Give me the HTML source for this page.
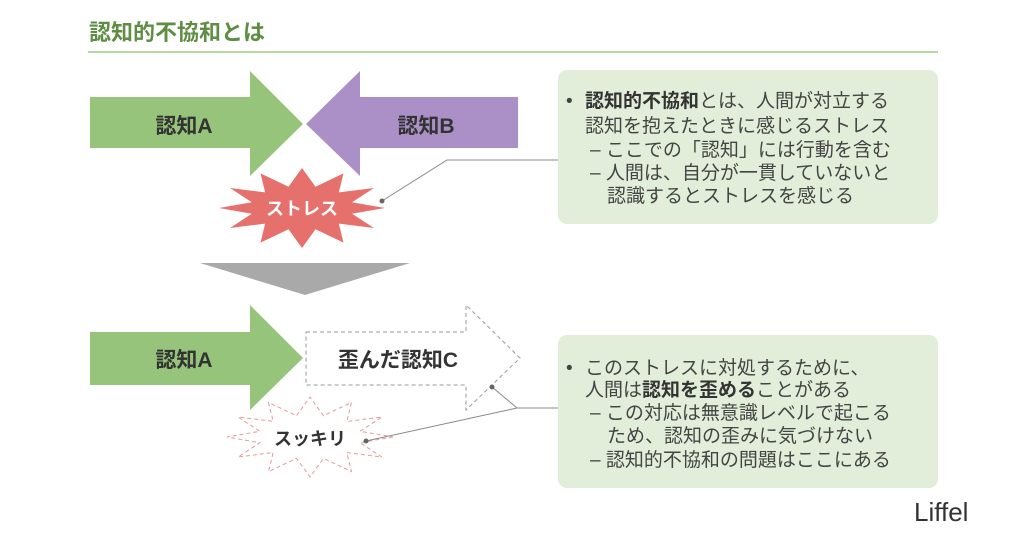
<!DOCTYPE html>
<html><head><meta charset="utf-8"><style>
html,body{margin:0;padding:0;background:#fff;}
svg{display:block;font-family:"Liberation Sans","Noto Sans CJK JP",sans-serif;}
</style></head><body>
<svg width="1023" height="536" viewBox="0 0 1023 536" xmlns="http://www.w3.org/2000/svg">
<text x="89" y="40" font-size="22" font-weight="bold" fill="#5e8e44">認知的不協和とは</text>
<rect x="88" y="51" width="850" height="2" fill="#b7d6a2"/>

<polygon points="90,97 250,97 250,71 303,124 250,176 250,148 90,148" fill="#95c47a"/>
<text x="184" y="133" font-size="21" font-weight="bold" fill="#333" text-anchor="middle">認知A</text>
<polygon points="518,97 360,97 360,71 306,124 360,176 360,148 518,148" fill="#ab90c8"/>
<text x="426" y="133" font-size="21" font-weight="bold" fill="#333" text-anchor="middle">認知B</text>

<polygon points="385,208 352,213.7 374,228 338.8,223.6 343.5,242.6 315.5,229.3 302,248 288.5,229.3 260.5,242.6 265.2,223.6 230,228 251.8,213.7 219,208 251.8,202.3 230,188 265.2,192.4 260.5,173.4 288.5,186.7 302,168 315.5,186.7 343.5,173.4 338.8,192.4 374,188 352,202.3" fill="#e6706b"/>
<text x="302" y="215" font-size="18" font-weight="bold" fill="#fff" text-anchor="middle">ストレス</text>
<polyline points="382,201 447,160 558,160" fill="none" stroke="#888" stroke-width="1"/>
<circle cx="382" cy="201" r="2.5" fill="#666"/>

<polygon points="200,263 410,263 305,295" fill="#a9a9a9"/>

<polygon points="90,332 250,332 250,305 303,358 250,410 250,385 90,385" fill="#95c47a"/>
<text x="184" y="367" font-size="21" font-weight="bold" fill="#333" text-anchor="middle">認知A</text>
<polygon points="306,332 466,332 466,305 520,358 466,410 466,385 306,385 306,332" fill="#fff" stroke="#999" stroke-width="1" stroke-dasharray="4,3"/>
<text x="398" y="367" font-size="21" font-weight="bold" fill="#333" text-anchor="middle">歪んだ認知C</text>

<g transform="translate(8,229)">
<polygon points="385,208 352,213.7 374,228 338.8,223.6 343.5,242.6 315.5,229.3 302,248 288.5,229.3 260.5,242.6 265.2,223.6 230,228 251.8,213.7 219,208 251.8,202.3 230,188 265.2,192.4 260.5,173.4 288.5,186.7 302,168 315.5,186.7 343.5,173.4 338.8,192.4 374,188 352,202.3" fill="#fff" stroke="#e49a9a" stroke-width="1" stroke-dasharray="4,3"/>
</g>
<text x="310" y="445" font-size="18" font-weight="bold" fill="#333" text-anchor="middle">スッキリ</text>
<polyline points="492,387 517,408 558,408" fill="none" stroke="#888" stroke-width="1"/>
<line x1="366" y1="441" x2="517" y2="408" stroke="#888" stroke-width="1"/>
<circle cx="492" cy="387" r="2.5" fill="#666"/>
<circle cx="366" cy="441" r="2.5" fill="#666"/>

<rect x="558" y="70" width="380" height="154" rx="9" fill="#e2eed9"/>
<g font-size="19" fill="#444">
<text x="566" y="107">•</text>
<text x="585" y="107"><tspan font-weight="bold" fill="#333">認知的不協和</tspan>とは、人間が対立する</text>
<text x="585" y="132">認知を抱えたときに感じるストレス</text>
<text x="590" y="156">– ここでの「認知」には行動を含む</text>
<text x="590" y="179">– 人間は、自分が一貫していないと</text>
<text x="607" y="202">認識するとストレスを感じる</text>
</g>
<rect x="558" y="335" width="380" height="153" rx="9" fill="#e2eed9"/>
<g font-size="19" fill="#444">
<text x="566" y="374">•</text>
<text x="585" y="374">このストレスに対処するために、</text>
<text x="585" y="396">人間は<tspan font-weight="bold" fill="#333">認知を歪める</tspan>ことがある</text>
<text x="590" y="419">– この対応は無意識レベルで起こる</text>
<text x="607" y="442">ため、認知の歪みに気づけない</text>
<text x="590" y="466">– 認知的不協和の問題はここにある</text>
</g>

<text x="914" y="521" font-size="26" fill="#333">Liffel</text>
</svg>
</body></html>
